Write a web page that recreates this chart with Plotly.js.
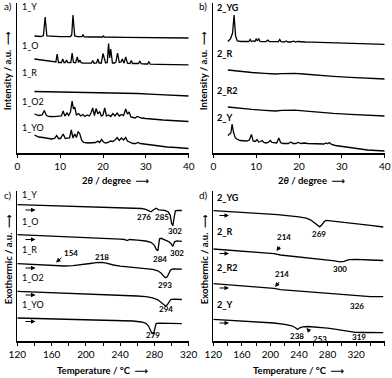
<!DOCTYPE html>
<html>
<head>
<meta charset="utf-8">
<script src="https://cdn.plot.ly/plotly-3.0.1.min.js"></script>
<style>
  html, body { margin: 0; padding: 0; background: #fff; }
  #chart { width: 392px; height: 378px; }
</style>
</head>
<body>
<div id="chart"></div>
<script>
// ---- a) PXRD, compound 1 (intensity in offset a.u.) ----
const a1Y_x = [4.0, 5.5, 6.1, 6.5, 6.9, 8, 10, 12.4, 12.7, 13.0, 13.4, 14, 15.1, 15.3, 15.6, 17, 19.9, 20.1, 20.3, 25, 30, 35, 40];
const a1Y_y = [117, 116.5, 117.5, 136, 117, 116.5, 116.3, 116.5, 118, 138, 117, 116.3, 116.3, 118.5, 116.2, 116, 116, 117, 116, 115.7, 115.5, 115.2, 115];

const a1O_x = [4.0, 6, 8, 9.0, 9.3, 9.6, 10.3, 10.6, 10.9, 11.2, 11.5, 11.8, 12.5, 12.8, 13.1, 13.6, 14.0, 14.3, 14.6, 14.9, 15.3, 16.5, 17.3, 17.6, 17.9, 18.5, 18.8, 19.1, 19.6, 20.0, 20.3, 20.6, 21.0, 21.3, 21.55, 21.8, 22.2, 22.7, 23.0, 23.4, 23.8, 24.2, 24.5, 24.9, 25.3, 25.7, 26.3, 26.6, 26.9, 27.8, 28.3, 28.6, 28.9, 29.8, 30.4, 30.7, 31.0, 33, 36, 40];
const a1O_y = [94, 92.5, 91.5, 91, 99, 90.5, 90.5, 94, 90.5, 90.5, 93, 90.3, 90.3, 100, 90.5, 90.3, 96, 90.5, 93, 90.3, 90, 90, 89.8, 92.5, 89.8, 90, 94, 90, 90, 99.5, 93, 90, 90.5, 109.5, 95, 104, 90, 90, 91, 100, 90.5, 91, 94, 89.8, 96, 89.8, 89.5, 92.5, 89.5, 89.3, 89.5, 92, 89.3, 89, 89, 91.5, 88.8, 88.7, 88.5, 88.2];

const a1R_x = [4.0, 8, 12, 16, 20, 24, 28, 32, 36, 40];
const a1R_y = [61.5, 61.2, 61, 60.9, 60.7, 60.2, 59.5, 58.7, 57.8, 57];

const a1O2_x = [4.0, 5.0, 5.8, 6.3, 6.8, 7.5, 8.5, 9.5, 10.3, 10.7, 11.1, 11.6, 12.0, 12.4, 12.8, 13.1, 13.4, 13.8, 14.3, 14.8, 15.3, 15.8, 16.3, 16.8, 17.2, 17.6, 18.0, 18.4, 18.8, 19.2, 19.6, 20.0, 20.4, 20.8, 21.3, 21.8, 22.3, 22.8, 23.3, 23.8, 24.3, 24.8, 25.3, 25.7, 26.1, 26.5, 27.0, 27.5, 28.0, 28.5, 29.0, 30, 32, 34, 36, 38, 40];
const a1O2_y = [39, 37.5, 38, 42.5, 37.5, 36.5, 36.3, 36.5, 37, 42, 37, 40, 37.5, 41, 52, 44, 46, 38, 39.5, 37, 38.5, 36.5, 38, 37, 40, 45, 37.5, 44.5, 39, 41.5, 37, 38, 45, 37, 38, 36.5, 39.5, 37, 40, 37, 38.5, 37.5, 44, 39, 41, 36, 35.5, 35, 36.5, 35.5, 35, 34.5, 33.5, 33, 32.5, 32, 31.5];

const a1YO_x = [4.0, 5.0, 6.0, 7.0, 8.0, 8.7, 9.2, 9.6, 10.1, 10.7, 11.2, 11.7, 12.2, 12.6, 13.0, 13.4, 13.8, 14.2, 14.6, 15.0, 15.5, 16.5, 17.5, 18.3, 18.8, 19.2, 19.7, 20.1, 20.6, 21.2, 21.8, 22.3, 22.8, 23.3, 23.8, 24.3, 24.8, 25.3, 25.7, 26.2, 27.0, 27.6, 28.2, 28.7, 29.5, 31, 33, 35, 37, 39, 40];
const a1YO_y = [18, 16, 15.5, 14.5, 14, 14.5, 17.5, 14.5, 14.5, 19, 14.5, 14.8, 15, 23, 15, 19, 15.5, 21.5, 19, 13, 10.5, 10, 10, 10.5, 12, 10.5, 13.5, 11, 10, 10.5, 12, 11.5, 13, 15.5, 12.5, 15, 13, 15.5, 12, 11, 9.5, 9.5, 10.5, 9.5, 9, 8, 7, 6, 5.5, 5, 4.5];

// ---- b) PXRD, compound 2 ----
const b2YG_x = [3.4, 4.0, 4.5, 4.85, 5.2, 5.6, 6.5, 7.5, 8.3, 8.6, 8.9, 9.3, 9.7, 10.0, 10.3, 10.6, 10.9, 11.5, 12.3, 12.7, 13.1, 13.8, 14.5, 15.2, 15.5, 15.8, 16.5, 17.0, 17.4, 18.0, 18.8, 19.2, 19.6, 20.5, 21.5, 23, 26, 30, 34, 37, 40];
const b2YG_y = [111.5, 114, 120, 138, 117, 112, 111.5, 111.3, 111.5, 113.5, 111.5, 112, 111.5, 114, 112, 114.5, 111.5, 111.3, 111.5, 113, 111.5, 111.3, 111.2, 111.5, 113.5, 111.3, 111, 112, 111, 111, 111.8, 111, 111.5, 111, 111, 110.8, 110.3, 109.7, 109.3, 109, 108.7];

const b2R_x = [3.4, 6, 9, 12, 14.5, 16, 17.5, 19, 21, 24, 28, 32, 36, 40];
const b2R_y = [83, 81.5, 80.5, 79.6, 79, 79.4, 79.8, 79.6, 79, 77.8, 76.6, 75.6, 74.7, 74];

const b2R2_x = [3.4, 6, 9, 12, 14.5, 16, 17.5, 19, 21, 24, 28, 32, 36, 40];
const b2R2_y = [46, 44.6, 43.6, 42.6, 42, 42.6, 43, 42.8, 42.2, 41, 39.6, 38.6, 37.8, 37];

const b2Y_x = [3.4, 3.8, 4.1, 4.4, 4.7, 5.1, 5.5, 6.2, 7.0, 7.8, 8.4, 8.9, 9.3, 9.8, 10.2, 10.6, 11.0, 11.4, 11.8, 12.3, 12.8, 13.3, 13.7, 14.2, 14.8, 15.3, 15.7, 16.2, 16.8, 17.5, 18.1, 18.6, 19.2, 19.8, 20.5, 21.3, 22.0, 23, 24, 25, 25.8, 26.3, 26.7, 27.1, 27.6, 28.5, 30, 32, 34, 36, 38, 40];
const b2Y_y = [17.5, 18.5, 20, 29, 21, 15.5, 14, 12.5, 12, 12, 13, 18.5, 12, 11.5, 13.5, 11, 11.5, 12.5, 10.5, 10, 10.5, 12.5, 10.5, 10, 10, 15, 10.5, 9.5, 9.5, 9.5, 11, 9.5, 9.5, 10.5, 9.5, 10, 9.5, 9.5, 9, 9, 9, 10, 9.2, 10.5, 8.5, 7.5, 6.5, 5, 4, 3, 2.5, 2];

// ---- c) DSC, compound 1 (heat flow in offset a.u.) ----
const c1Y_x = [120, 140, 160, 180, 200, 220, 240, 255, 265, 270, 273, 276, 279, 282, 285, 288, 292, 296, 298.5, 300, 301.5, 303, 304.5, 307, 312];
const c1Y_y = [136.6, 136.1, 135.6, 135.2, 134.8, 134.4, 134, 133.5, 132.8, 132, 130.5, 129.5, 131.5, 133, 131.5, 131.5, 131, 129.5, 126, 118, 115.5, 124, 130.5, 131, 130.8];

const c1O_x = [120, 140, 160, 180, 200, 220, 240, 245, 248, 251, 260, 270, 276, 280, 282, 284, 286, 288, 292, 296, 299, 301.5, 303.5, 306, 312];
const c1O_y = [106.6, 106, 105.3, 104.6, 103.8, 103, 102.2, 101.8, 100.8, 101.8, 101.2, 100.3, 99, 96, 92, 90.5, 102.5, 103, 101.5, 100, 98, 95, 99.5, 100.5, 100];

const c1R_x = [120, 140, 154, 165, 175, 185, 195, 205, 212, 218, 224, 232, 240, 250, 260, 270, 278, 284, 288, 291, 293, 295, 297, 299, 302, 306, 312];
const c1R_y = [77.6, 76.8, 76.1, 75.5, 75.3, 75.6, 76.4, 77.8, 78.7, 79, 78.2, 76.3, 75.2, 74.5, 73.8, 73, 72, 70.5, 68, 65, 63.5, 64.5, 69, 71.5, 72.3, 72.3, 72.2];

const c1O2_x = [120, 140, 160, 180, 200, 220, 240, 260, 270, 278, 284, 288, 291, 293, 295, 297, 299, 302, 306, 312];
const c1O2_y = [50, 49.4, 48.8, 48.2, 47.6, 47, 46.3, 45.3, 44.6, 43.5, 41.5, 38.5, 36, 35.3, 36.5, 40, 41.8, 42.2, 42, 41.8];

const c1YO_x = [120, 140, 160, 180, 200, 220, 240, 255, 265, 270, 273, 275, 277, 279, 280.5, 282, 285, 290, 300, 312];
const c1YO_y = [23.3, 22.9, 22.5, 22.1, 21.7, 21.3, 20.9, 20.3, 19.3, 18, 15.5, 11, 8, 7.6, 13, 17.8, 18.2, 18.1, 17.9, 17.6];

// ---- d) DSC, compound 2 ----
const d2YG_x = [120, 150, 180, 210, 240, 250, 256, 262, 266, 269, 272, 275, 278, 285, 300, 320, 340, 358];
const d2YG_y = [130.6, 129.5, 128.2, 126.6, 124.5, 123.2, 121.5, 118.5, 116, 114.5, 116.5, 119.5, 121, 120.5, 119.5, 117.8, 116, 114.3];

const d2R_x = [120, 150, 180, 205, 214, 225, 240, 260, 280, 290, 297, 303, 310, 320, 340, 358];
const d2R_y = [92.3, 90.8, 89.2, 87.6, 86.3, 85.5, 84.6, 83.3, 81.8, 80.4, 79.5, 80, 81.6, 82, 81.3, 80.8];

const d2R2_x = [120, 150, 180, 205, 214, 225, 250, 280, 300, 320, 326, 340, 358];
const d2R2_y = [57.6, 56, 54.5, 53, 51.6, 51, 49.6, 47.8, 46.5, 45.2, 44.9, 44.7, 44.6];

const d2Y_x = [120, 150, 180, 205, 220, 230, 235, 238, 241, 245, 253, 260, 270, 280, 290, 300, 310, 319, 330, 345, 358];
const d2Y_y = [22, 20.8, 19.6, 18.3, 17, 15.5, 13.5, 11.8, 13.5, 14.5, 14.8, 14.5, 14, 13.2, 12.2, 11, 9.8, 9, 8.8, 8.7, 8.6];

// tick labels
const xrdTicks = [0, 10, 20, 30, 40];
const dscTicksC = [120, 160, 200, 240, 280, 320];
const dscTicksD = [120, 160, 200, 240, 280, 320, 360];

const W = 392, H = 378;
const FONT = "Lato, 'DejaVu Sans', sans-serif";

function line(x, y, xa, ya) {
  return { x: x, y: y, xaxis: xa, yaxis: ya, type: 'scatter', mode: 'lines',
           line: { color: '#000', width: 1.3 }, hoverinfo: 'skip', showlegend: false };
}

const traces = [
  line(a1Y_x, a1Y_y, 'x', 'y'), line(a1O_x, a1O_y, 'x', 'y'), line(a1R_x, a1R_y, 'x', 'y'),
  line(a1O2_x, a1O2_y, 'x', 'y'), line(a1YO_x, a1YO_y, 'x', 'y'),
  line(b2YG_x, b2YG_y, 'x2', 'y2'), line(b2R_x, b2R_y, 'x2', 'y2'),
  line(b2R2_x, b2R2_y, 'x2', 'y2'), line(b2Y_x, b2Y_y, 'x2', 'y2'),
  line(c1Y_x, c1Y_y, 'x3', 'y3'), line(c1O_x, c1O_y, 'x3', 'y3'), line(c1R_x, c1R_y, 'x3', 'y3'),
  line(c1O2_x, c1O2_y, 'x3', 'y3'), line(c1YO_x, c1YO_y, 'x3', 'y3'),
  line(d2YG_x, d2YG_y, 'x4', 'y4'), line(d2R_x, d2R_y, 'x4', 'y4'),
  line(d2R2_x, d2R2_y, 'x4', 'y4'), line(d2Y_x, d2Y_y, 'x4', 'y4')
];

function xax(domain, range, ticks, anchor, minor) {
  const ax = { domain: domain, range: range, anchor: anchor, tickvals: ticks,
    showline: true, linecolor: '#000', linewidth: 1.5, ticks: 'outside', ticklen: 3,
    tickcolor: '#000', tickwidth: 1, showgrid: false, zeroline: false,
    tickfont: { family: FONT, size: 10, color: '#000' }, fixedrange: true };
  if (minor) ax.minor = { dtick: minor, ticks: 'outside', ticklen: 3, tickcolor: '#000', showgrid: false };
  return ax;
}
function yax(domain, anchor) {
  return { domain: domain, range: [0, 150], anchor: anchor, showline: true, linecolor: '#000',
    linewidth: 1.5, showticklabels: false, ticks: '', showgrid: false, zeroline: false, fixedrange: true };
}

const rowTop = [1 - 153 / H, 1 - 3 / H];
const rowBot = [1 - 341.3 / H, 1 - 191.3 / H];
const colLeft = [17.3 / W, 188.7 / W];
const colRight = [213.3 / W, 384.7 / W];

// text annotation at pixel position (centre of the text)
function T(text, px, py, size, opts) {
  return Object.assign({ text: text, x: px / W, y: 1 - py / H, xref: 'paper', yref: 'paper',
    xanchor: 'center', yanchor: 'middle', showarrow: false,
    font: { family: FONT, size: size, color: '#000' } }, opts || {});
}
// arrow annotation: head at (hx,hy), tail at (tx,ty), pixels
function AR(hx, hy, tx, ty) {
  return { text: '', x: hx / W, y: 1 - hy / H, xref: 'paper', yref: 'paper', showarrow: true,
    ax: tx - hx, ay: ty - hy, arrowhead: 2, arrowsize: 0.9, arrowwidth: 1, arrowcolor: '#000' };
}
const L = { xanchor: 'left' };
const PK = 8;

const annotations = [
  // panel letters
  T('a)', 7.5, 6, 10), T('b)', 203, 6, 10), T('c)', 7.5, 195, 10), T('d)', 203, 195, 10),
  // axis titles
  T('<b>2<i>θ</i> / degree  ⟶</b>', 116, 180, 9.5),
  T('<b>2<i>θ</i> / degree  ⟶</b>', 312, 180, 9.5),
  T('<b>Temperature / °C  ⟶</b>', 103, 370, 9.5),
  T('<b>Temperature / °C  ⟶</b>', 299, 370, 9.5),
  T('<b>Intensity / a.u.  ⟶</b>', 8.3, 71, 9.5, { textangle: -90 }),
  T('<b>Intensity / a.u.  ⟶</b>', 204.3, 71, 9.5, { textangle: -90 }),
  T('<b>Exothermic / a.u.  ⟶</b>', 8.3, 259, 9.5, { textangle: -90 }),
  T('<b>Exothermic / a.u.  ⟶</b>', 204.3, 259, 9.5, { textangle: -90 }),
  // curve labels a
  T('1_Y', 20, 7, 9, L), T('1_O', 20, 46, 9, L), T('1_R', 20, 72, 9, L),
  T('1_O2', 20, 102, 9, L), T('1_YO', 20, 127.5, 9, L),
  // curve labels b
  T('<b>2_YG</b>', 215, 7.5, 9, L), T('<b>2_R</b>', 215, 53.5, 9, L),
  T('<b>2_R2</b>', 215, 90, 9, L), T('<b>2_Y</b>', 215, 117.5, 9, L),
  // curve labels c
  T('1_Y', 20, 194, 9, L), T('1_O', 20, 221.5, 9, L), T('1_R', 20, 249, 9, L),
  T('1_O2', 20, 277, 9, L), T('1_YO', 20, 304, 9, L),
  // curve labels d
  T('<b>2_YG</b>', 215, 197, 9, L), T('<b>2_R</b>', 215, 231.5, 9, L),
  T('<b>2_R2</b>', 215, 267.5, 9, L), T('<b>2_Y</b>', 215, 304.5, 9, L),
  // peak labels c
  T('<b>276</b>', 144, 217.5, PK), T('<b>285</b>', 162, 217.5, PK), T('<b>302</b>', 175, 231, PK),
  T('<b>284</b>', 160, 258.5, PK), T('<b>302</b>', 177, 253.5, PK),
  T('<b>154</b>', 71, 253.5, PK), T('<b>218</b>', 101.5, 256.5, PK),
  T('<b>293</b>', 165, 284.5, PK), T('<b>294</b>', 166, 309, PK), T('<b>279</b>', 153, 335, PK),
  AR(56, 262.5, 63, 256.5),
  // peak labels d
  T('<b>269</b>', 319, 234, PK), T('<b>214</b>', 284, 237.5, PK), T('<b>300</b>', 339.5, 269, PK),
  T('<b>214</b>', 282, 274, PK), T('<b>326</b>', 357, 305.5, PK), T('<b>238</b>', 296.5, 335.5, PK),
  T('<b>253</b>', 319.5, 338.5, PK), T('<b>319</b>', 358.5, 337, PK),
  AR(276.5, 251, 281, 245), AR(275, 287, 280.5, 280.5), AR(306.5, 328, 311, 333),
  // heating-direction arrows on DSC traces
  AR(35.5, 210, 24, 210), AR(35.5, 239.5, 24, 239.5), AR(35.5, 268, 24, 268),
  AR(35.5, 295, 24, 295), AR(35.5, 321.5, 24, 321.5),
  AR(229, 215.5, 218, 215.5), AR(229, 253.5, 218, 253.5), AR(229, 288, 218, 288), AR(229, 323, 218, 323)
];

const layout = {
  width: W, height: H,
  margin: { l: 0, r: 0, t: 0, b: 0 },
  paper_bgcolor: '#fff', plot_bgcolor: '#fff',
  showlegend: false,
  font: { family: FONT, color: '#000' },
  xaxis: xax(colLeft, [0, 40], xrdTicks, 'y'),
  yaxis: yax(rowTop, 'x'),
  xaxis2: xax(colRight, [0, 40], xrdTicks, 'y2'),
  yaxis2: yax(rowTop, 'x2'),
  xaxis3: xax(colLeft, [120, 320], dscTicksC, 'y3', 20),
  yaxis3: yax(rowBot, 'x3'),
  xaxis4: xax(colRight, [120, 360], dscTicksD, 'y4', 20),
  yaxis4: yax(rowBot, 'x4'),
  annotations: annotations
};

Plotly.newPlot('chart', traces, layout, { displayModeBar: false, staticPlot: true });
</script>
</body>
</html>
